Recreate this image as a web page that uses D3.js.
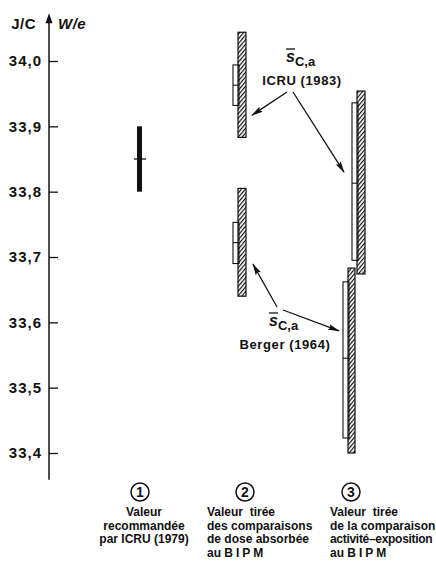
<!DOCTYPE html>
<html>
<head>
<meta charset="utf-8">
<script src="https://cdn.jsdelivr.net/npm/d3@7"></script>
<style>
  html, body { margin: 0; padding: 0; background: #fff; }
  svg { display: block; }
  text { font-family: "Liberation Sans", Arial, Helvetica, sans-serif; font-weight: bold; fill: #111; }
</style>
</head>
<body>
<script>
// ---- data -------------------------------------------------------------
const tickValues = [33.4, 33.5, 33.6, 33.7, 33.8, 33.9, 34.0];
const axisExtent = [33.359, 34.073];

// column 1: recommended W/e value (ICRU 1979)
const recommended = { column: 1, value: 33.85, low: 33.80, high: 33.90 };

// columns 2 and 3: values derived with two sets of stopping powers
const derivedColumns = [2, 2, 3, 3];
const derivedSource  = ["ICRU (1983)", "Berger (1964)", "ICRU (1983)", "Berger (1964)"];
const derivedValue   = [33.963, 33.722, 33.813, 33.545];
const boxLow         = [33.932, 33.690, 33.695, 33.423];
const boxHigh        = [33.994, 33.753, 33.936, 33.662];
const hatchLow       = [33.883, 33.640, 33.674, 33.400];
const hatchHigh      = [34.044, 33.805, 33.954, 33.683];

// annotation arrow targets (values on the axis)
const icruArrowTargets   = [33.917, 33.830];
const bergerArrowTargets = [33.689, 33.587];

const columnNumbers = ["1", "2", "3"];
const captions = [
  ["Valeur", "recommandée", "par ICRU (1979)"],
  ["Valeur  tirée", "des comparaisons", "de dose absorbée", "au BIPM"],
  ["Valeur  tirée", "de la comparaison", "activité–exposition", "au BIPM"]
];

// ---- layout -----------------------------------------------------------
const W = 436, H = 561;
const svg = d3.select("body").append("svg").attr("width", W).attr("height", H);

const y = d3.scaleLinear().domain([33.4, 34.0]).range([453, 61]);
const x = d3.scaleLinear().domain([1, 3]).range([140, 350]);
const axisX = 49;

// diagonal hatching
const defs = svg.append("defs");
defs.append("pattern")
  .attr("id", "hatch")
  .attr("patternUnits", "userSpaceOnUse")
  .attr("width", 3).attr("height", 3)
  .attr("patternTransform", "rotate(40)")
  .append("line")
  .attr("x1", 0.6).attr("y1", -1).attr("x2", 0.6).attr("y2", 4)
  .attr("stroke", "#111").attr("stroke-width", 1.2);

defs.append("marker")
  .attr("id", "arrowhead")
  .attr("viewBox", "0 0 12 6")
  .attr("refX", 11).attr("refY", 3)
  .attr("markerWidth", 12).attr("markerHeight", 6)
  .attr("markerUnits", "userSpaceOnUse")
  .attr("orient", "auto")
  .append("path")
  .attr("d", "M0,0 L12,3 L0,6 L2,3 Z")
  .attr("fill", "#111");

// ---- axis -------------------------------------------------------------
const axis = d3.axisLeft(y)
  .tickValues(tickValues)
  .tickSizeInner(-9)
  .tickSizeOuter(0)
  .tickPadding(7)
  .tickFormat(d => d3.format(".1f")(d).replace(".", ","));

const gAxis = svg.append("g").attr("transform", `translate(${axisX},0)`).call(axis);
gAxis.select(".domain").remove();
gAxis.selectAll(".tick line").attr("stroke", "#111").attr("stroke-width", 1.3);
gAxis.selectAll(".tick text")
  .attr("font-size", 15)
  .attr("letter-spacing", 1)
  .attr("font-family", "Liberation Sans, Arial, sans-serif")
  .attr("font-weight", "bold")
  .attr("fill", "#111");

svg.append("line")
  .attr("x1", axisX).attr("x2", axisX)
  .attr("y1", y(axisExtent[0])).attr("y2", y(axisExtent[1]) + 6)
  .attr("stroke", "#111").attr("stroke-width", 1.5);
svg.append("path")
  .attr("d", `M${axisX},${y(axisExtent[1])} L${axisX - 3.5},${y(axisExtent[1]) + 10} L${axisX + 3.5},${y(axisExtent[1]) + 10} Z`)
  .attr("fill", "#111");

svg.append("text").attr("x", 36).attr("y", 29).attr("text-anchor", "end")
  .attr("font-size", 15).attr("letter-spacing", 0.5).text("J/C");
svg.append("text").attr("x", 58).attr("y", 29)
  .attr("font-size", 15).attr("font-style", "italic").attr("letter-spacing", 0.5).text("W/e");

// ---- column 1: recommended value --------------------------------------
svg.append("rect")
  .attr("x", x(recommended.column) - 3)
  .attr("width", 5)
  .attr("y", y(recommended.high))
  .attr("height", y(recommended.low) - y(recommended.high))
  .attr("fill", "#111");
svg.append("line")
  .attr("x1", x(recommended.column) - 6).attr("x2", x(recommended.column) + 6)
  .attr("y1", y(recommended.value)).attr("y2", y(recommended.value))
  .attr("stroke", "#111").attr("stroke-width", 1.3);

// ---- columns 2 and 3 ----------------------------------------------------
// horizontal placement of each hatched bar relative to its column
const hatchOffset = [-7, -7, 7, -2];
const hatchWidth = [8, 8, 8, 7];
const boxWidth = 6;

derivedValue.forEach((v, i) => {
  const hx = x(derivedColumns[i]) + hatchOffset[i];
  const bx = hx - boxWidth + 1;
  const g = svg.append("g");
  // open box: spread of the individual results
  g.append("rect")
    .attr("x", bx).attr("width", boxWidth)
    .attr("y", y(boxHigh[i])).attr("height", y(boxLow[i]) - y(boxHigh[i]))
    .attr("fill", "#fff").attr("stroke", "#111").attr("stroke-width", 1.1);
  g.append("line")
    .attr("x1", bx).attr("x2", bx + boxWidth)
    .attr("y1", y(v)).attr("y2", y(v))
    .attr("stroke", "#111").attr("stroke-width", 1.1);
  // hatched bar: overall uncertainty
  g.append("rect")
    .attr("x", hx).attr("width", hatchWidth[i])
    .attr("y", y(hatchHigh[i])).attr("height", y(hatchLow[i]) - y(hatchHigh[i]))
    .attr("fill", "url(#hatch)").attr("stroke", "#111").attr("stroke-width", 1.2);
});

// ---- annotations --------------------------------------------------------
function stoppingLabel(cx, baseY, source) {
  const g = svg.append("g");
  const t = g.append("text").attr("x", cx - 16).attr("y", baseY).attr("font-size", 16).attr("font-style", "italic");
  t.append("tspan").text("s");
  t.append("tspan").attr("dy", 4).attr("font-size", 13).attr("font-style", "normal").text("C,a");
  g.append("line")
    .attr("x1", cx - 16).attr("x2", cx - 7)
    .attr("y1", baseY - 13).attr("y2", baseY - 13)
    .attr("stroke", "#111").attr("stroke-width", 1.3);
  g.append("text").attr("x", cx).attr("y", baseY + 23).attr("text-anchor", "middle")
    .attr("font-size", 13).attr("letter-spacing", 0.6).text(source);
}

stoppingLabel(302, 62, "ICRU (1983)");
stoppingLabel(285, 326, "Berger (1964)");

function arrow(x1, y1, x2, y2) {
  svg.append("line")
    .attr("x1", x1).attr("y1", y1).attr("x2", x2).attr("y2", y2)
    .attr("stroke", "#111").attr("stroke-width", 1.3)
    .attr("marker-end", "url(#arrowhead)");
}
arrow(287, 92, 252, y(icruArrowTargets[0]));
arrow(293, 92, 344, y(icruArrowTargets[1]));
arrow(277, 307, 253, y(bergerArrowTargets[0]));
arrow(283, 310, 339, y(bergerArrowTargets[1]));

// ---- column numbers and captions -----------------------------------------
const numberX = [x(1), x(2), x(3) + 1];
columnNumbers.forEach((n, i) => {
  svg.append("circle").attr("cx", numberX[i]).attr("cy", 492).attr("r", 9)
    .attr("fill", "none").attr("stroke", "#111").attr("stroke-width", 1.5);
  svg.append("text").attr("x", numberX[i]).attr("y", 497).attr("text-anchor", "middle")
    .attr("font-size", 14).text(n);
});

const captionX = [144, 207, 330];
const captionAnchor = ["middle", "start", "start"];
captions.forEach((lines, i) => {
  lines.forEach((line, j) => {
    const t = svg.append("text")
      .attr("x", captionX[i]).attr("y", 516 + j * 13.7)
      .attr("text-anchor", captionAnchor[i])
      .attr("font-size", 12)
      .style("white-space", "pre");
    if (line.endsWith("BIPM")) {
      t.append("tspan").text("au ");
      t.append("tspan").attr("letter-spacing", 3).text("BIPM");
    } else {
      t.text(line);
      // the longest line of the right-hand caption is set a touch tighter
      if (line.length > 18) t.attr("letter-spacing", -0.3);
    }
  });
});
</script>
</body>
</html>
